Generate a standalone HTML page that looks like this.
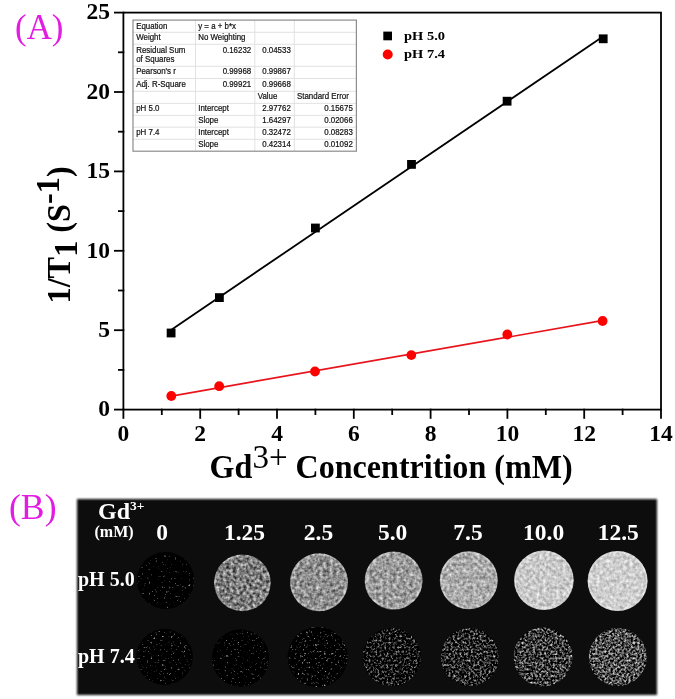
<!DOCTYPE html><html><head><meta charset="utf-8"><style>
html,body{margin:0;padding:0;background:#fff;width:675px;height:699px;overflow:hidden}
svg{display:block;filter:blur(0.35px)}
.sb{font-family:"Liberation Serif",serif;font-weight:bold}
.sr{font-family:"Liberation Serif",serif}
.ss{font-family:"Liberation Sans",sans-serif}
</style></head><body>
<svg width="675" height="699" viewBox="0 0 675 699">
<text class="sr" x="15" y="38.9" font-size="35" fill="#e31be3" textLength="48.5" lengthAdjust="spacingAndGlyphs">(A)</text>
<g stroke="#000" stroke-width="1.8" fill="none" stroke-linecap="square">
<rect x="123.4" y="12.600000000000023" width="537.6" height="397.0"/>
<line x1="114.9" y1="409.60" x2="123.4" y2="409.60"/>
<line x1="114.9" y1="330.20" x2="123.4" y2="330.20"/>
<line x1="114.9" y1="250.80" x2="123.4" y2="250.80"/>
<line x1="114.9" y1="171.40" x2="123.4" y2="171.40"/>
<line x1="114.9" y1="92.00" x2="123.4" y2="92.00"/>
<line x1="114.9" y1="12.60" x2="123.4" y2="12.60"/>
<line x1="118.9" y1="369.90" x2="123.4" y2="369.90"/>
<line x1="118.9" y1="290.50" x2="123.4" y2="290.50"/>
<line x1="118.9" y1="211.10" x2="123.4" y2="211.10"/>
<line x1="118.9" y1="131.70" x2="123.4" y2="131.70"/>
<line x1="118.9" y1="52.30" x2="123.4" y2="52.30"/>
<line x1="123.40" y1="409.6" x2="123.40" y2="417.90000000000003"/>
<line x1="200.20" y1="409.6" x2="200.20" y2="417.90000000000003"/>
<line x1="277.00" y1="409.6" x2="277.00" y2="417.90000000000003"/>
<line x1="353.80" y1="409.6" x2="353.80" y2="417.90000000000003"/>
<line x1="430.60" y1="409.6" x2="430.60" y2="417.90000000000003"/>
<line x1="507.40" y1="409.6" x2="507.40" y2="417.90000000000003"/>
<line x1="584.20" y1="409.6" x2="584.20" y2="417.90000000000003"/>
<line x1="661.00" y1="409.6" x2="661.00" y2="417.90000000000003"/>
<line x1="161.80" y1="409.6" x2="161.80" y2="414.1"/>
<line x1="238.60" y1="409.6" x2="238.60" y2="414.1"/>
<line x1="315.40" y1="409.6" x2="315.40" y2="414.1"/>
<line x1="392.20" y1="409.6" x2="392.20" y2="414.1"/>
<line x1="469.00" y1="409.6" x2="469.00" y2="414.1"/>
<line x1="545.80" y1="409.6" x2="545.80" y2="414.1"/>
<line x1="622.60" y1="409.6" x2="622.60" y2="414.1"/>
</g>
<text class="sb" x="110" y="416.30" font-size="23.5" text-anchor="end">0</text>
<text class="sb" x="110" y="336.90" font-size="23.5" text-anchor="end">5</text>
<text class="sb" x="110" y="257.50" font-size="23.5" text-anchor="end">10</text>
<text class="sb" x="110" y="178.10" font-size="23.5" text-anchor="end">15</text>
<text class="sb" x="110" y="98.70" font-size="23.5" text-anchor="end">20</text>
<text class="sb" x="110" y="19.30" font-size="23.5" text-anchor="end">25</text>
<text class="sb" x="123.40" y="441.4" font-size="23.5" text-anchor="middle">0</text>
<text class="sb" x="200.20" y="441.4" font-size="23.5" text-anchor="middle">2</text>
<text class="sb" x="277.00" y="441.4" font-size="23.5" text-anchor="middle">4</text>
<text class="sb" x="353.80" y="441.4" font-size="23.5" text-anchor="middle">6</text>
<text class="sb" x="430.60" y="441.4" font-size="23.5" text-anchor="middle">8</text>
<text class="sb" x="507.40" y="441.4" font-size="23.5" text-anchor="middle">10</text>
<text class="sb" x="584.20" y="441.4" font-size="23.5" text-anchor="middle">12</text>
<text class="sb" x="661.00" y="441.4" font-size="23.5" text-anchor="middle">14</text>
<text class="sb" x="209.6" y="477.8" font-size="33" textLength="363" lengthAdjust="spacingAndGlyphs">Gd<tspan class="sr" font-weight="normal" dy="-10" font-size="34">3+</tspan><tspan dy="10"> Concentrition (mM)</tspan></text>
<text class="sb" transform="translate(69.6,303.5) rotate(-90)" x="0" y="0" font-size="33.5" textLength="137.2" lengthAdjust="spacingAndGlyphs">1/T<tspan dy="7">1</tspan><tspan dy="-7"> (S</tspan><tspan dy="-11">-1</tspan><tspan dy="11">)</tspan></text>
<line x1="171.40" y1="329.70" x2="603.40" y2="36.19" stroke="#000" stroke-width="1.8"/>
<line x1="171.40" y1="396.04" x2="603.40" y2="320.45" stroke="#e8141c" stroke-width="1.7"/>
<rect x="166.70" y="328.60" width="8.8" height="8.8" fill="#000"/>
<rect x="215.00" y="293.20" width="8.8" height="8.8" fill="#000"/>
<rect x="311.00" y="223.60" width="8.8" height="8.8" fill="#000"/>
<rect x="407.10" y="160.00" width="8.8" height="8.8" fill="#000"/>
<rect x="502.70" y="96.80" width="8.8" height="8.8" fill="#000"/>
<rect x="598.80" y="34.40" width="8.8" height="8.8" fill="#000"/>
<circle cx="171.3" cy="396" r="4.9" fill="#f00"/>
<circle cx="219.2" cy="386.2" r="4.9" fill="#f00"/>
<circle cx="315" cy="371.5" r="4.9" fill="#f00"/>
<circle cx="411.3" cy="355.1" r="4.9" fill="#f00"/>
<circle cx="507.3" cy="334.5" r="4.9" fill="#f00"/>
<circle cx="602.6" cy="321" r="4.9" fill="#f00"/>
<rect x="383.3" y="31.6" width="8.7" height="8.7" fill="#000"/>
<circle cx="387.7" cy="54.5" r="5" fill="#f00"/>
<text class="sb" x="404" y="39.6" font-size="13.5" textLength="41" lengthAdjust="spacingAndGlyphs">pH 5.0</text>
<text class="sb" x="404" y="57.6" font-size="13.5" textLength="41" lengthAdjust="spacingAndGlyphs">pH 7.4</text>
<g stroke="#e2e2e2" stroke-width="1">
<line x1="133" y1="32.3" x2="356.4" y2="32.3"/>
<line x1="133" y1="44.3" x2="356.4" y2="44.3"/>
<line x1="133" y1="66.3" x2="356.4" y2="66.3"/>
<line x1="133" y1="78.5" x2="356.4" y2="78.5"/>
<line x1="133" y1="91.3" x2="356.4" y2="91.3"/>
<line x1="133" y1="103.4" x2="356.4" y2="103.4"/>
<line x1="133" y1="115.4" x2="356.4" y2="115.4"/>
<line x1="133" y1="127.2" x2="356.4" y2="127.2"/>
<line x1="133" y1="139.3" x2="356.4" y2="139.3"/>
<line x1="195.5" y1="20.1" x2="195.5" y2="151.2"/>
<line x1="254.8" y1="20.1" x2="254.8" y2="151.2"/>
<line x1="294.3" y1="20.1" x2="294.3" y2="151.2"/>
</g>
<rect x="133" y="20.1" width="223.39999999999998" height="131.1" fill="none" stroke="#8c8c8c" stroke-width="1.2"/>
<text class="ss" x="136.20" y="28.50" font-size="8.8" fill="#111" stroke="#111" stroke-width="0.22" textLength="31.19" lengthAdjust="spacingAndGlyphs">Equation</text>
<text class="ss" x="198.20" y="28.50" font-size="8.8" fill="#111" stroke="#111" stroke-width="0.22" textLength="37.77" lengthAdjust="spacingAndGlyphs">y = a + b*x</text>
<text class="ss" x="136.20" y="39.90" font-size="8.8" fill="#111" stroke="#111" stroke-width="0.22" textLength="24.44" lengthAdjust="spacingAndGlyphs">Weight</text>
<text class="ss" x="198.20" y="39.90" font-size="8.8" fill="#111" stroke="#111" stroke-width="0.22" textLength="47.28" lengthAdjust="spacingAndGlyphs">No Weighting</text>
<text class="ss" x="136.20" y="52.80" font-size="8.8" fill="#111" stroke="#111" stroke-width="0.22" textLength="49.18" lengthAdjust="spacingAndGlyphs">Residual Sum</text>
<text class="ss" x="136.20" y="62.20" font-size="8.8" fill="#111" stroke="#111" stroke-width="0.22" textLength="38.21" lengthAdjust="spacingAndGlyphs">of Squares</text>
<text class="ss" x="222.64" y="52.80" font-size="8.8" fill="#111" stroke="#111" stroke-width="0.22" textLength="28.56" lengthAdjust="spacingAndGlyphs">0.16232</text>
<text class="ss" x="262.24" y="52.80" font-size="8.8" fill="#111" stroke="#111" stroke-width="0.22" textLength="28.56" lengthAdjust="spacingAndGlyphs">0.04533</text>
<text class="ss" x="136.20" y="74.10" font-size="8.8" fill="#111" stroke="#111" stroke-width="0.22" textLength="39.71" lengthAdjust="spacingAndGlyphs">Pearson's r</text>
<text class="ss" x="222.64" y="74.10" font-size="8.8" fill="#111" stroke="#111" stroke-width="0.22" textLength="28.56" lengthAdjust="spacingAndGlyphs">0.99968</text>
<text class="ss" x="262.24" y="74.10" font-size="8.8" fill="#111" stroke="#111" stroke-width="0.22" textLength="28.56" lengthAdjust="spacingAndGlyphs">0.99867</text>
<text class="ss" x="136.20" y="86.90" font-size="8.8" fill="#111" stroke="#111" stroke-width="0.22" textLength="49.62" lengthAdjust="spacingAndGlyphs">Adj. R-Square</text>
<text class="ss" x="222.64" y="86.90" font-size="8.8" fill="#111" stroke="#111" stroke-width="0.22" textLength="28.56" lengthAdjust="spacingAndGlyphs">0.99921</text>
<text class="ss" x="262.24" y="86.90" font-size="8.8" fill="#111" stroke="#111" stroke-width="0.22" textLength="28.56" lengthAdjust="spacingAndGlyphs">0.99668</text>
<text class="ss" x="257.80" y="99.00" font-size="8.8" fill="#111" stroke="#111" stroke-width="0.22" textLength="19.62" lengthAdjust="spacingAndGlyphs">Value</text>
<text class="ss" x="297.00" y="99.00" font-size="8.8" fill="#111" stroke="#111" stroke-width="0.22" textLength="51.82" lengthAdjust="spacingAndGlyphs">Standard Error</text>
<text class="ss" x="136.20" y="111.00" font-size="8.8" fill="#111" stroke="#111" stroke-width="0.22" textLength="23.28" lengthAdjust="spacingAndGlyphs">pH 5.0</text>
<text class="ss" x="198.20" y="111.00" font-size="8.8" fill="#111" stroke="#111" stroke-width="0.22" textLength="30.74" lengthAdjust="spacingAndGlyphs">Intercept</text>
<text class="ss" x="262.24" y="111.00" font-size="8.8" fill="#111" stroke="#111" stroke-width="0.22" textLength="28.56" lengthAdjust="spacingAndGlyphs">2.97762</text>
<text class="ss" x="324.24" y="111.00" font-size="8.8" fill="#111" stroke="#111" stroke-width="0.22" textLength="28.56" lengthAdjust="spacingAndGlyphs">0.15675</text>
<text class="ss" x="198.20" y="122.80" font-size="8.8" fill="#111" stroke="#111" stroke-width="0.22" textLength="20.21" lengthAdjust="spacingAndGlyphs">Slope</text>
<text class="ss" x="262.24" y="122.80" font-size="8.8" fill="#111" stroke="#111" stroke-width="0.22" textLength="28.56" lengthAdjust="spacingAndGlyphs">1.64297</text>
<text class="ss" x="324.24" y="122.80" font-size="8.8" fill="#111" stroke="#111" stroke-width="0.22" textLength="28.56" lengthAdjust="spacingAndGlyphs">0.02066</text>
<text class="ss" x="136.20" y="134.90" font-size="8.8" fill="#111" stroke="#111" stroke-width="0.22" textLength="23.28" lengthAdjust="spacingAndGlyphs">pH 7.4</text>
<text class="ss" x="198.20" y="134.90" font-size="8.8" fill="#111" stroke="#111" stroke-width="0.22" textLength="30.74" lengthAdjust="spacingAndGlyphs">Intercept</text>
<text class="ss" x="262.24" y="134.90" font-size="8.8" fill="#111" stroke="#111" stroke-width="0.22" textLength="28.56" lengthAdjust="spacingAndGlyphs">0.32472</text>
<text class="ss" x="324.24" y="134.90" font-size="8.8" fill="#111" stroke="#111" stroke-width="0.22" textLength="28.56" lengthAdjust="spacingAndGlyphs">0.08283</text>
<text class="ss" x="198.20" y="146.80" font-size="8.8" fill="#111" stroke="#111" stroke-width="0.22" textLength="20.21" lengthAdjust="spacingAndGlyphs">Slope</text>
<text class="ss" x="262.24" y="146.80" font-size="8.8" fill="#111" stroke="#111" stroke-width="0.22" textLength="28.56" lengthAdjust="spacingAndGlyphs">0.42314</text>
<text class="ss" x="324.24" y="146.80" font-size="8.8" fill="#111" stroke="#111" stroke-width="0.22" textLength="28.56" lengthAdjust="spacingAndGlyphs">0.01092</text>
<text class="sr" x="9" y="518.8" font-size="36" fill="#e31be3" textLength="47.5" lengthAdjust="spacingAndGlyphs">(B)</text>
<filter id="pb" x="-5%" y="-5%" width="110%" height="110%"><feGaussianBlur stdDeviation="0.9"/></filter>
<rect x="77" y="499" width="580" height="196" fill="#0d0d0d" filter="url(#pb)"/>
<defs>
<filter id="f0" x="0" y="0" width="1" height="1" color-interpolation-filters="sRGB"><feTurbulence type="fractalNoise" baseFrequency="0.45" numOctaves="2" seed="3" result="t"/><feColorMatrix in="t" type="matrix" values="1 0 0 0 0  1 0 0 0 0  1 0 0 0 0  0 0 0 0 1" result="g"/><feComponentTransfer in="g" result="c"><feFuncR type="linear" slope="2.6" intercept="-1.716"/><feFuncG type="linear" slope="2.6" intercept="-1.716"/><feFuncB type="linear" slope="2.6" intercept="-1.716"/></feComponentTransfer><feGaussianBlur in="c" stdDeviation="0.35" result="bl"/><feComposite in="bl" in2="SourceGraphic" operator="in"/></filter>
<filter id="f1" x="0" y="0" width="1" height="1" color-interpolation-filters="sRGB"><feTurbulence type="fractalNoise" baseFrequency="0.3" numOctaves="2" seed="10" result="t"/><feColorMatrix in="t" type="matrix" values="1 0 0 0 0  1 0 0 0 0  1 0 0 0 0  0 0 0 0 1" result="g"/><feComponentTransfer in="g" result="c"><feFuncR type="linear" slope="1.0924999999999998" intercept="-0.056"/><feFuncG type="linear" slope="1.0924999999999998" intercept="-0.056"/><feFuncB type="linear" slope="1.0924999999999998" intercept="-0.056"/></feComponentTransfer><feGaussianBlur in="c" stdDeviation="0.6" result="bl"/><feComposite in="bl" in2="SourceGraphic" operator="in"/></filter>
<filter id="f2" x="0" y="0" width="1" height="1" color-interpolation-filters="sRGB"><feTurbulence type="fractalNoise" baseFrequency="0.3" numOctaves="2" seed="17" result="t"/><feColorMatrix in="t" type="matrix" values="1 0 0 0 0  1 0 0 0 0  1 0 0 0 0  0 0 0 0 1" result="g"/><feComponentTransfer in="g" result="c"><feFuncR type="linear" slope="0.9025" intercept="0.109"/><feFuncG type="linear" slope="0.9025" intercept="0.109"/><feFuncB type="linear" slope="0.9025" intercept="0.109"/></feComponentTransfer><feGaussianBlur in="c" stdDeviation="0.6" result="bl"/><feComposite in="bl" in2="SourceGraphic" operator="in"/></filter>
<filter id="f3" x="0" y="0" width="1" height="1" color-interpolation-filters="sRGB"><feTurbulence type="fractalNoise" baseFrequency="0.3" numOctaves="2" seed="24" result="t"/><feColorMatrix in="t" type="matrix" values="1 0 0 0 0  1 0 0 0 0  1 0 0 0 0  0 0 0 0 1" result="g"/><feComponentTransfer in="g" result="c"><feFuncR type="linear" slope="0.8075" intercept="0.206"/><feFuncG type="linear" slope="0.8075" intercept="0.206"/><feFuncB type="linear" slope="0.8075" intercept="0.206"/></feComponentTransfer><feGaussianBlur in="c" stdDeviation="0.6" result="bl"/><feComposite in="bl" in2="SourceGraphic" operator="in"/></filter>
<filter id="f4" x="0" y="0" width="1" height="1" color-interpolation-filters="sRGB"><feTurbulence type="fractalNoise" baseFrequency="0.3" numOctaves="2" seed="31" result="t"/><feColorMatrix in="t" type="matrix" values="1 0 0 0 0  1 0 0 0 0  1 0 0 0 0  0 0 0 0 1" result="g"/><feComponentTransfer in="g" result="c"><feFuncR type="linear" slope="0.7124999999999999" intercept="0.314"/><feFuncG type="linear" slope="0.7124999999999999" intercept="0.314"/><feFuncB type="linear" slope="0.7124999999999999" intercept="0.314"/></feComponentTransfer><feGaussianBlur in="c" stdDeviation="0.6" result="bl"/><feComposite in="bl" in2="SourceGraphic" operator="in"/></filter>
<filter id="f5" x="0" y="0" width="1" height="1" color-interpolation-filters="sRGB"><feTurbulence type="fractalNoise" baseFrequency="0.3" numOctaves="2" seed="38" result="t"/><feColorMatrix in="t" type="matrix" values="1 0 0 0 0  1 0 0 0 0  1 0 0 0 0  0 0 0 0 1" result="g"/><feComponentTransfer in="g" result="c"><feFuncR type="linear" slope="0.5225" intercept="0.529"/><feFuncG type="linear" slope="0.5225" intercept="0.529"/><feFuncB type="linear" slope="0.5225" intercept="0.529"/></feComponentTransfer><feGaussianBlur in="c" stdDeviation="0.6" result="bl"/><feComposite in="bl" in2="SourceGraphic" operator="in"/></filter>
<filter id="f6" x="0" y="0" width="1" height="1" color-interpolation-filters="sRGB"><feTurbulence type="fractalNoise" baseFrequency="0.3" numOctaves="2" seed="45" result="t"/><feColorMatrix in="t" type="matrix" values="1 0 0 0 0  1 0 0 0 0  1 0 0 0 0  0 0 0 0 1" result="g"/><feComponentTransfer in="g" result="c"><feFuncR type="linear" slope="0.475" intercept="0.573"/><feFuncG type="linear" slope="0.475" intercept="0.573"/><feFuncB type="linear" slope="0.475" intercept="0.573"/></feComponentTransfer><feGaussianBlur in="c" stdDeviation="0.6" result="bl"/><feComposite in="bl" in2="SourceGraphic" operator="in"/></filter>
<filter id="f7" x="0" y="0" width="1" height="1" color-interpolation-filters="sRGB"><feTurbulence type="fractalNoise" baseFrequency="0.45" numOctaves="2" seed="52" result="t"/><feColorMatrix in="t" type="matrix" values="1 0 0 0 0  1 0 0 0 0  1 0 0 0 0  0 0 0 0 1" result="g"/><feComponentTransfer in="g" result="c"><feFuncR type="linear" slope="2.6" intercept="-1.664"/><feFuncG type="linear" slope="2.6" intercept="-1.664"/><feFuncB type="linear" slope="2.6" intercept="-1.664"/></feComponentTransfer><feGaussianBlur in="c" stdDeviation="0.35" result="bl"/><feComposite in="bl" in2="SourceGraphic" operator="in"/></filter>
<filter id="f8" x="0" y="0" width="1" height="1" color-interpolation-filters="sRGB"><feTurbulence type="fractalNoise" baseFrequency="0.45" numOctaves="2" seed="59" result="t"/><feColorMatrix in="t" type="matrix" values="1 0 0 0 0  1 0 0 0 0  1 0 0 0 0  0 0 0 0 1" result="g"/><feComponentTransfer in="g" result="c"><feFuncR type="linear" slope="2.6" intercept="-1.690"/><feFuncG type="linear" slope="2.6" intercept="-1.690"/><feFuncB type="linear" slope="2.6" intercept="-1.690"/></feComponentTransfer><feGaussianBlur in="c" stdDeviation="0.35" result="bl"/><feComposite in="bl" in2="SourceGraphic" operator="in"/></filter>
<filter id="f9" x="0" y="0" width="1" height="1" color-interpolation-filters="sRGB"><feTurbulence type="fractalNoise" baseFrequency="0.45" numOctaves="2" seed="66" result="t"/><feColorMatrix in="t" type="matrix" values="1 0 0 0 0  1 0 0 0 0  1 0 0 0 0  0 0 0 0 1" result="g"/><feComponentTransfer in="g" result="c"><feFuncR type="linear" slope="2.6" intercept="-1.586"/><feFuncG type="linear" slope="2.6" intercept="-1.586"/><feFuncB type="linear" slope="2.6" intercept="-1.586"/></feComponentTransfer><feGaussianBlur in="c" stdDeviation="0.35" result="bl"/><feComposite in="bl" in2="SourceGraphic" operator="in"/></filter>
<filter id="f10" x="0" y="0" width="1" height="1" color-interpolation-filters="sRGB"><feTurbulence type="fractalNoise" baseFrequency="0.45" numOctaves="2" seed="73" result="t"/><feColorMatrix in="t" type="matrix" values="1 0 0 0 0  1 0 0 0 0  1 0 0 0 0  0 0 0 0 1" result="g"/><feComponentTransfer in="g" result="c"><feFuncR type="linear" slope="1.8" intercept="-0.855"/><feFuncG type="linear" slope="1.8" intercept="-0.855"/><feFuncB type="linear" slope="1.8" intercept="-0.855"/></feComponentTransfer><feGaussianBlur in="c" stdDeviation="0.35" result="bl"/><feComposite in="bl" in2="SourceGraphic" operator="in"/></filter>
<filter id="f11" x="0" y="0" width="1" height="1" color-interpolation-filters="sRGB"><feTurbulence type="fractalNoise" baseFrequency="0.45" numOctaves="2" seed="80" result="t"/><feColorMatrix in="t" type="matrix" values="1 0 0 0 0  1 0 0 0 0  1 0 0 0 0  0 0 0 0 1" result="g"/><feComponentTransfer in="g" result="c"><feFuncR type="linear" slope="1.8" intercept="-0.765"/><feFuncG type="linear" slope="1.8" intercept="-0.765"/><feFuncB type="linear" slope="1.8" intercept="-0.765"/></feComponentTransfer><feGaussianBlur in="c" stdDeviation="0.35" result="bl"/><feComposite in="bl" in2="SourceGraphic" operator="in"/></filter>
<filter id="f12" x="0" y="0" width="1" height="1" color-interpolation-filters="sRGB"><feTurbulence type="fractalNoise" baseFrequency="0.45" numOctaves="2" seed="87" result="t"/><feColorMatrix in="t" type="matrix" values="1 0 0 0 0  1 0 0 0 0  1 0 0 0 0  0 0 0 0 1" result="g"/><feComponentTransfer in="g" result="c"><feFuncR type="linear" slope="1.8" intercept="-0.675"/><feFuncG type="linear" slope="1.8" intercept="-0.675"/><feFuncB type="linear" slope="1.8" intercept="-0.675"/></feComponentTransfer><feGaussianBlur in="c" stdDeviation="0.35" result="bl"/><feComposite in="bl" in2="SourceGraphic" operator="in"/></filter>
<filter id="f13" x="0" y="0" width="1" height="1" color-interpolation-filters="sRGB"><feTurbulence type="fractalNoise" baseFrequency="0.45" numOctaves="2" seed="94" result="t"/><feColorMatrix in="t" type="matrix" values="1 0 0 0 0  1 0 0 0 0  1 0 0 0 0  0 0 0 0 1" result="g"/><feComponentTransfer in="g" result="c"><feFuncR type="linear" slope="1.8" intercept="-0.594"/><feFuncG type="linear" slope="1.8" intercept="-0.594"/><feFuncB type="linear" slope="1.8" intercept="-0.594"/></feComponentTransfer><feGaussianBlur in="c" stdDeviation="0.35" result="bl"/><feComposite in="bl" in2="SourceGraphic" operator="in"/></filter>
</defs>
<circle cx="165.6" cy="580.4" r="28.4" fill="#000"/>
<circle cx="165.6" cy="580.4" r="28.4" fill="#fff" filter="url(#f0)"/>
<circle cx="242.4" cy="582.8" r="28.4" fill="#000"/>
<circle cx="242.4" cy="582.8" r="28.4" fill="#fff" filter="url(#f1)"/>
<circle cx="242.4" cy="582.8" r="27.2" fill="none" stroke="#fff" stroke-opacity="0.22" stroke-width="1.6"/>
<circle cx="319" cy="582.2" r="29" fill="#000"/>
<circle cx="319" cy="582.2" r="29" fill="#fff" filter="url(#f2)"/>
<circle cx="319" cy="582.2" r="27.8" fill="none" stroke="#fff" stroke-opacity="0.22" stroke-width="1.6"/>
<circle cx="393.6" cy="580.6" r="29" fill="#000"/>
<circle cx="393.6" cy="580.6" r="29" fill="#fff" filter="url(#f3)"/>
<circle cx="393.6" cy="580.6" r="27.8" fill="none" stroke="#fff" stroke-opacity="0.22" stroke-width="1.6"/>
<circle cx="468.8" cy="580.2" r="29" fill="#000"/>
<circle cx="468.8" cy="580.2" r="29" fill="#fff" filter="url(#f4)"/>
<circle cx="468.8" cy="580.2" r="27.8" fill="none" stroke="#fff" stroke-opacity="0.22" stroke-width="1.6"/>
<circle cx="543.9" cy="580.2" r="29.8" fill="#000"/>
<circle cx="543.9" cy="580.2" r="29.8" fill="#fff" filter="url(#f5)"/>
<circle cx="543.9" cy="580.2" r="28.6" fill="none" stroke="#fff" stroke-opacity="0.22" stroke-width="1.6"/>
<circle cx="617.6" cy="581" r="30" fill="#000"/>
<circle cx="617.6" cy="581" r="30" fill="#fff" filter="url(#f6)"/>
<circle cx="617.6" cy="581" r="28.8" fill="none" stroke="#fff" stroke-opacity="0.22" stroke-width="1.6"/>
<circle cx="164.6" cy="657" r="28" fill="#000"/>
<circle cx="164.6" cy="657" r="28" fill="#fff" filter="url(#f7)"/>
<circle cx="240.6" cy="658" r="28.5" fill="#000"/>
<circle cx="240.6" cy="658" r="28.5" fill="#fff" filter="url(#f8)"/>
<circle cx="317.6" cy="657" r="30" fill="#000"/>
<circle cx="317.6" cy="657" r="30" fill="#fff" filter="url(#f9)"/>
<circle cx="391.8" cy="657" r="29" fill="#000"/>
<circle cx="391.8" cy="657" r="29" fill="#fff" filter="url(#f10)"/>
<circle cx="469.8" cy="657" r="29" fill="#000"/>
<circle cx="469.8" cy="657" r="29" fill="#fff" filter="url(#f11)"/>
<circle cx="543" cy="657" r="29.5" fill="#000"/>
<circle cx="543" cy="657" r="29.5" fill="#fff" filter="url(#f12)"/>
<circle cx="617.8" cy="657" r="29" fill="#000"/>
<circle cx="617.8" cy="657" r="29" fill="#fff" filter="url(#f13)"/>
<text class="sb" x="98" y="519.3" font-size="24" fill="#fff">Gd<tspan font-size="13.5" dy="-9.8">3+</tspan></text>
<text class="sb" x="94.5" y="537" font-size="16" fill="#fff">(mM)</text>
<text class="sb" x="162" y="540.2" font-size="23.5" fill="#fff" text-anchor="middle">0</text>
<text class="sb" x="244.5" y="540.2" font-size="23.5" fill="#fff" text-anchor="middle">1.25</text>
<text class="sb" x="318.5" y="540.2" font-size="23.5" fill="#fff" text-anchor="middle">2.5</text>
<text class="sb" x="392.6" y="540.2" font-size="23.5" fill="#fff" text-anchor="middle">5.0</text>
<text class="sb" x="468" y="540.2" font-size="23.5" fill="#fff" text-anchor="middle">7.5</text>
<text class="sb" x="543.6" y="540.2" font-size="23.5" fill="#fff" text-anchor="middle">10.0</text>
<text class="sb" x="618.3" y="540.2" font-size="23.5" fill="#fff" text-anchor="middle">12.5</text>
<text class="sb" x="78" y="586" font-size="20" fill="#fff">pH 5.0</text>
<text class="sb" x="78" y="663.4" font-size="20" fill="#fff">pH 7.4</text>
</svg></body></html>
